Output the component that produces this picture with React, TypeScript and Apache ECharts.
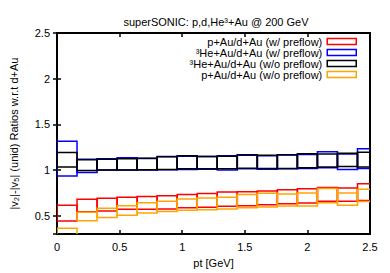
import React, { useEffect, useRef } from "react";
import * as echarts from "echarts";

const binEdges = [0, 0.16, 0.32, 0.48, 0.64, 0.8, 0.96, 1.12, 1.28, 1.44, 1.6, 1.76, 1.92, 2.08, 2.24, 2.4, 2.56];

const seriesNames = [
  "p+Au/d+Au (w/ preflow)",
  "³He+Au/d+Au (w/ preflow)",
  "³He+Au/d+Au (w/o preflow)",
  "p+Au/d+Au (w/o preflow)",
];
const seriesColors = ["#ff0000", "#0000ff", "#000000", "#ffa500"];

const pAuPreLo = [0.443, 0.545, 0.554, 0.571, 0.571, 0.575, 0.589, 0.595, 0.604, 0.61, 0.621, 0.632, 0.64, 0.66, 0.66, 0.668];
const pAuPreHi = [0.615, 0.682, 0.693, 0.703, 0.71, 0.72, 0.732, 0.745, 0.76, 0.764, 0.771, 0.786, 0.797, 0.81, 0.803, 0.85];

const heAuPreLo = [0.936, 0.975, 1.0, 1.0, 1.0, 1.005, 1.007, 1.01, 1.0, 1.015, 1.01, 1.015, 1.017, 1.025, 1.007, 1.017];
const heAuPreHi = [1.317, 1.12, 1.125, 1.135, 1.128, 1.15, 1.152, 1.148, 1.157, 1.162, 1.157, 1.165, 1.172, 1.2, 1.175, 1.235];

const heAuNoPreLo = [1.035, 0.996, 1.0, 1.0, 1.003, 1.007, 1.014, 1.014, 1.014, 1.02, 1.017, 1.017, 1.025, 1.035, 1.04, 1.035];
const heAuNoPreHi = [1.193, 1.114, 1.12, 1.124, 1.13, 1.145, 1.157, 1.15, 1.152, 1.167, 1.162, 1.167, 1.178, 1.175, 1.185, 1.196];

const pAuNoPreLo = [0.25, 0.446, 0.482, 0.507, 0.532, 0.546, 0.561, 0.567, 0.575, 0.589, 0.596, 0.607, 0.607, 0.643, 0.615, 0.657];
const pAuNoPreHi = [0.364, 0.54, 0.582, 0.61, 0.643, 0.66, 0.685, 0.696, 0.703, 0.732, 0.746, 0.739, 0.75, 0.8, 0.75, 0.79];

const bands = [
  [pAuPreLo, pAuPreHi],
  [heAuPreLo, heAuPreHi],
  [heAuNoPreLo, heAuNoPreHi],
  [pAuNoPreLo, pAuNoPreHi],
];

const FONT = "Liberation Sans, Arial, Helvetica, sans-serif";

export default function App() {
  const ref = useRef<HTMLDivElement>(null);
  useEffect(() => {
    document.body.style.margin = "0";
    if (!ref.current) return;
    const chart = echarts.init(ref.current, undefined, { renderer: "svg" });

    const series = bands.map(([lo, hi], si) => {
      const color = seriesColors[si];
      return {
        type: "custom",
        name: seriesNames[si],
        clip: true,
        itemStyle: { color },
        encode: { x: [0, 1], y: [2, 3] },
        data: lo.map((l, i) => [binEdges[i], binEdges[i + 1], l, hi[i]]),
        renderItem: (params: any, api: any) => {
          const p1 = api.coord([api.value(0), api.value(3)]);
          const p2 = api.coord([api.value(1), api.value(2)]);
          return {
            type: "rect",
            shape: { x: p1[0], y: p1[1], width: p2[0] - p1[0], height: p2[1] - p1[1] },
            style: { fill: "none", stroke: color, lineWidth: 1.5 },
          };
        },
      };
    });

    const axisCommon = {
      min: 0,
      max: 2.5,
    };

    chart.setOption({
      animation: false,
      textStyle: { fontFamily: FONT },
      title: {
        text: "superSONIC: p,d,He³+Au @ 200 GeV",
        left: 211,
        top: 11,
        textAlign: "center",
        textStyle: { fontSize: 11, fontWeight: "normal", color: "#000", fontFamily: FONT },
      },
      legend: {
        orient: "vertical",
        right: 33,
        top: 36,
        align: "right",
        padding: 0,
        itemGap: 0,
        itemWidth: 29,
        itemHeight: 6,
        icon: "rect",
        textStyle: { fontSize: 11, color: "#000", fontFamily: FONT, lineHeight: 10.5 },
        data: seriesNames.map((n, i) => ({
          name: n,
          itemStyle: { color: "transparent", borderColor: seriesColors[i], borderWidth: 1.5 },
        })),
      },
      grid: {
        left: 53,
        right: 20,
        top: 33,
        bottom: 36,
        show: true,
        borderColor: "#000",
        borderWidth: 2,
        backgroundColor: "transparent",
      },
      xAxis: [
        {
          type: "value",
          ...axisCommon,
          interval: 0.5,
          name: "pt [GeV]",
          nameLocation: "middle",
          nameGap: 21,
          nameTextStyle: { fontSize: 11, color: "#000", fontFamily: FONT },
          axisLine: { show: false },
          axisTick: { show: true, inside: true, length: 4, lineStyle: { color: "#000", width: 1.5 } },
          axisLabel: { fontSize: 11, color: "#000", margin: 7, fontFamily: FONT },
          splitLine: { show: false },
        },
        {
          type: "value",
          ...axisCommon,
          interval: 0.5,
          position: "top",
          axisLine: { show: false },
          axisTick: { show: true, inside: true, length: 4, lineStyle: { color: "#000", width: 1.5 } },
          axisLabel: { show: false },
          splitLine: { show: false },
        },
      ],
      yAxis: [
        {
          type: "value",
          min: 0.3,
          max: 2.5,
          name: "|v₂|-|v₅| (unid) Ratios w.r.t d+Au",
          nameLocation: "middle",
          nameGap: 38,
          nameTextStyle: { fontSize: 11, color: "#000", fontFamily: FONT },
          axisLine: { show: false },
          axisTick: { show: true, inside: true, length: 4, lineStyle: { color: "#000", width: 1.5 } },
          axisLabel: { fontSize: 11, color: "#000", margin: 7, fontFamily: FONT, showMinLabel: false },
          splitLine: { show: false },
        },
        {
          type: "value",
          min: 0.3,
          max: 2.5,
          position: "right",
          axisLine: { show: false },
          axisTick: { show: true, inside: true, length: 4, lineStyle: { color: "#000", width: 1.5 } },
          axisLabel: { show: false },
          splitLine: { show: false },
        },
      ],
      series,
    });
    return () => chart.dispose();
  }, []);
  return (
    <div
      ref={ref}
      style={{ width: 390, height: 273, position: "absolute", left: 0, top: 0, background: "#fff" }}
    />
  );
}
